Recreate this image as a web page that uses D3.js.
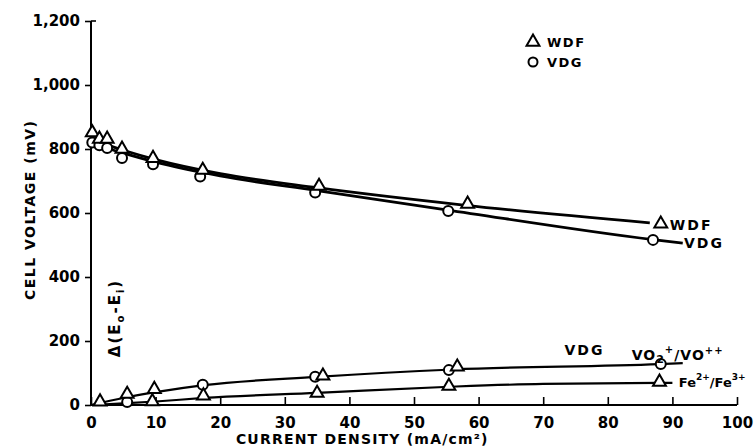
<!DOCTYPE html>
<html>
<head>
<meta charset="utf-8">
<script src="https://cdn.jsdelivr.net/npm/d3@7"></script>
<style>
  body { margin: 0; background: #fff; }
  text { font-family: "DejaVu Sans", sans-serif; font-weight: bold; fill: #000; }
</style>
</head>
<body>
<div id="chart"></div>
<script>
// Upper curves: cell voltage (mV) vs current density (mA/cm2)
var wdfPoints = [[0.2, 848], [1.3, 828], [2.5, 828], [4.8, 797], [9.6, 768], [17.3, 731], [35.3, 681], [58.3, 625]];
var vdgPoints = [[0.2, 820], [1.3, 812], [2.5, 803], [4.8, 772], [9.6, 752], [16.9, 714], [34.7, 664], [55.3, 606], [87, 516]];
var wdfCurve = [[0, 830], [5, 796], [10, 767], [20, 723], [35, 679], [58, 624], [86.5, 569]];
var vdgCurve = [[0, 818], [5, 787], [10, 759], [20, 716], [35, 670], [55, 610], [87, 517], [91.6, 506]];

// Lower curves: delta(Eo - Ei)
var voTriangles = [[1.4, 7], [5.6, 31], [9.8, 46], [35.9, 88], [56.7, 116]];
var voCircles = [[17.3, 63], [34.7, 88], [55.4, 109], [88.2, 128]];
var feTriangles = [[9.5, 8], [17.4, 26], [35, 34], [55.4, 56], [88, 69]];
var feCircles = [[5.6, 9]];
var voCurve = [[0, 0], [5, 22], [10, 40], [17.5, 62], [35, 88], [56, 111], [88, 128], [91.6, 131]];
var feCurve = [[0, 0], [5, 5], [10, 11], [17.5, 22], [35, 38], [55.5, 57], [70, 66], [88, 69], [90, 69]];

var xTicks = [0, 10, 20, 30, 40, 50, 60, 70, 80, 90, 100];
var yTicks = [0, 200, 400, 600, 800, 1000, 1200];

var width = 755, height = 447;
var margin = {top: 21, right: 18, bottom: 42, left: 91};

var svg = d3.select("#chart")
  .append("svg")
    .attr("width", width)
    .attr("height", height);

var x = d3.scaleLinear().domain([0, 100]).range([margin.left, width - margin.right]);
var y = d3.scaleLinear().domain([0, 1200]).range([height - margin.bottom, margin.top]);

// axes
var yAxis = d3.axisLeft(y).tickValues(yTicks).tickSize(6).tickPadding(5)
  .tickFormat(d3.format(","));
var xAxis = d3.axisBottom(x).tickValues(xTicks).tickSize(-8).tickPadding(12);

var gy = svg.append("g").attr("transform", "translate(" + margin.left + ",0)").call(yAxis);
var gx = svg.append("g").attr("transform", "translate(0," + y(0) + ")").call(xAxis);
[gx, gy].forEach(function(g) {
  g.select(".domain").remove();
  g.selectAll(".tick line").attr("stroke", "#000").attr("stroke-width", 1.6);
  g.selectAll(".tick text").style("font-size", "15px").style("font-family", "DejaVu Sans").style("font-weight", "bold");
});
svg.append("line").attr("x1", x(0)).attr("x2", x(0)).attr("y1", y(1200)).attr("y2", y(0))
  .attr("stroke", "#000").attr("stroke-width", 2);
svg.append("line").attr("x1", x(0)).attr("x2", x(100)).attr("y1", y(0)).attr("y2", y(0))
  .attr("stroke", "#000").attr("stroke-width", 2);
svg.append("line").attr("x1", x(0)).attr("x2", x(0) + 5).attr("y1", y(1200)).attr("y2", y(1200))
  .attr("stroke", "#000").attr("stroke-width", 1.6);

// axis titles
svg.append("text")
  .attr("transform", "translate(35," + y(610) + ") rotate(-90)")
  .attr("text-anchor", "middle")
  .style("font-size", "14px").style("letter-spacing", "1.5px")
  .text("CELL VOLTAGE (mV)");

svg.append("text")
  .attr("x", x(42)).attr("y", 444)
  .attr("text-anchor", "middle")
  .style("font-size", "14px").style("letter-spacing", "1.2px")
  .text("CURRENT DENSITY (mA/cm\u00B2)");

var dl = svg.append("text")
  .attr("transform", "translate(120," + y(272) + ") rotate(-90)")
  .attr("text-anchor", "middle")
  .style("font-size", "15px").style("letter-spacing", "2px");
dl.append("tspan").text("\u0394(E");
dl.append("tspan").attr("dy", 4).style("font-size", "10px").text("o");
dl.append("tspan").attr("dy", -4).text("-E");
dl.append("tspan").attr("dy", 4).style("font-size", "10px").text("i");
dl.append("tspan").attr("dy", -4).text(")");

// curves
var line = d3.line()
  .x(function(d) { return x(d[0]); })
  .y(function(d) { return y(d[1]); })
  .curve(d3.curveMonotoneX);

[wdfCurve, vdgCurve].forEach(function(c) {
  svg.append("path").datum(c).attr("d", line)
    .attr("fill", "none").attr("stroke", "#000").attr("stroke-width", 2.8);
});
[voCurve, feCurve].forEach(function(c) {
  svg.append("path").datum(c).attr("d", line)
    .attr("fill", "none").attr("stroke", "#000").attr("stroke-width", 2.2);
});

var tri = d3.symbol().type(d3.symbolTriangle).size(72);

function triangles(data) {
  svg.append("g").selectAll("path")
    .data(data)
    .join("path")
      .attr("d", tri)
      .attr("transform", function(d) { return "translate(" + x(d[0]) + "," + (y(d[1]) - 1) + ")"; })
      .attr("fill", "#fff").attr("stroke", "#000").attr("stroke-width", 2);
}
function circles(data) {
  svg.append("g").selectAll("circle")
    .data(data)
    .join("circle")
      .attr("cx", function(d) { return x(d[0]); })
      .attr("cy", function(d) { return y(d[1]); })
      .attr("r", 5)
      .attr("fill", "#fff").attr("stroke", "#000").attr("stroke-width", 2);
}

circles(vdgPoints);
triangles(wdfPoints);
circles(voCircles);
circles(feCircles);
triangles(voTriangles);
triangles(feTriangles);

// legend
svg.append("path").attr("d", tri).attr("transform", "translate(533,42)")
  .attr("fill", "#fff").attr("stroke", "#000").attr("stroke-width", 2);
svg.append("circle").attr("cx", 533).attr("cy", 62).attr("r", 4.5)
  .attr("fill", "#fff").attr("stroke", "#000").attr("stroke-width", 2);
svg.append("text").attr("x", 547).attr("y", 47).style("font-size", "13px").style("letter-spacing", "1.5px").text("WDF");
svg.append("text").attr("x", 547).attr("y", 67).style("font-size", "13px").style("letter-spacing", "1.5px").text("VDG");

// curve labels
svg.append("path").attr("d", tri).attr("transform", "translate(" + (x(88.2)) + "," + (y(566)) + ")")
  .attr("fill", "#fff").attr("stroke", "#000").attr("stroke-width", 2);
svg.append("text").attr("x", x(89.6)).attr("y", y(548)).style("font-size", "14px").style("letter-spacing", "2px").text("WDF");
svg.append("text").attr("x", x(91.8)).attr("y", y(492)).style("font-size", "14px").style("letter-spacing", "2px").text("VDG");

svg.append("text").attr("x", x(73.3)).attr("y", y(155)).style("font-size", "14px").style("letter-spacing", "2px").text("VDG");

var vo = svg.append("text").attr("x", x(83.7)).attr("y", y(142)).style("font-size", "14px").style("letter-spacing", "1px");
vo.append("tspan").text("VO");
vo.append("tspan").attr("dy", 3).style("font-size", "11px").text("2");
vo.append("tspan").attr("dy", -10).style("font-size", "10px").text("+");
vo.append("tspan").attr("dy", 7).text("/VO");
vo.append("tspan").attr("dy", -6).style("font-size", "10px").text("++");

var fe = svg.append("text").attr("x", x(91.0)).attr("y", y(56)).style("font-size", "13px");
fe.append("tspan").text("Fe");
fe.append("tspan").attr("dy", -7).style("font-size", "9px").text("2+");
fe.append("tspan").attr("dy", 7).text("/Fe");
fe.append("tspan").attr("dy", -7).style("font-size", "9px").text("3+");
</script>
</body>
</html>
